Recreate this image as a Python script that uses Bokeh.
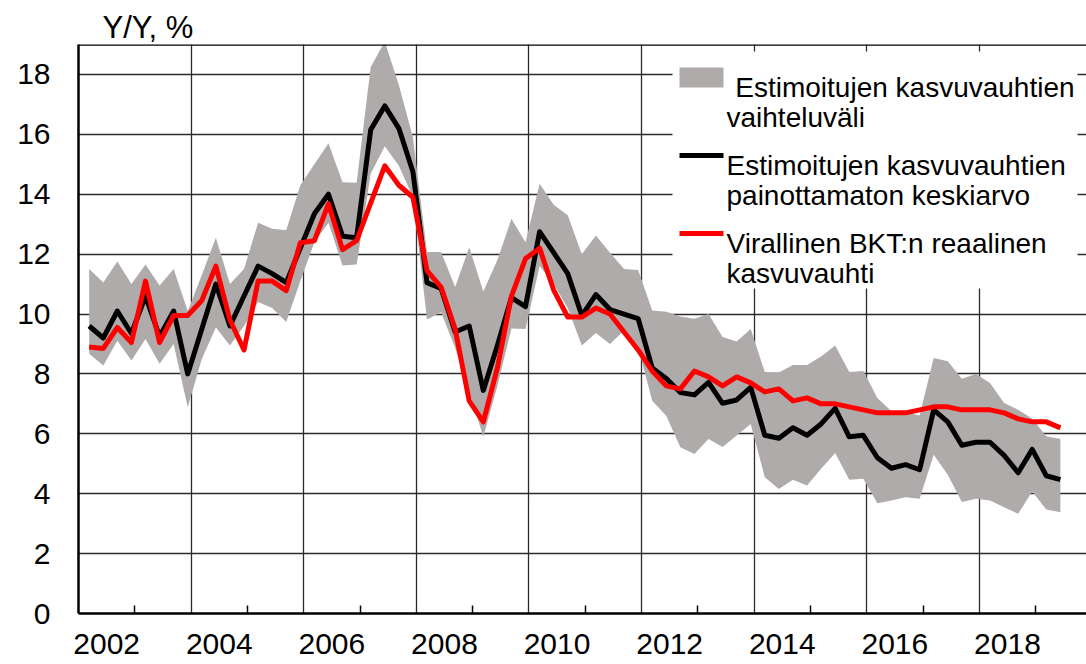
from bokeh.plotting import figure
from bokeh.models import (FixedTicker, CustomJSTickFormatter, Span, BoxAnnotation,
                          Label, Range1d)
from bokeh.embed import file_html
from bokeh.resources import INLINE

# ---------------- data (quarterly, 2002Q1 .. 2019Q2) ----------------
quarters = [f"{y}Q{q}" for y in range(2002, 2020) for q in range(1, 5)][:70]

mean_est = [9.6, 9.2, 10.1, 9.35, 10.6, 9.25, 10.1, 8.0, 9.5, 11.0,
            9.6, 10.6, 11.6, 11.35, 11.05, 12.2, 13.35, 14.0, 12.6, 12.55,
            16.15, 16.95, 16.2, 14.75, 11.05, 10.85, 9.4, 9.6, 7.45, 8.95,
            10.55, 10.25, 12.75, 12.05, 11.35, 9.95, 10.65, 10.15, 10.0, 9.85,
            8.2, 7.85, 7.38, 7.3, 7.72, 7.02, 7.13, 7.55, 5.95, 5.85,
            6.2, 5.95, 6.33, 6.85, 5.9, 5.95, 5.2, 4.85, 4.97, 4.8,
            6.8, 6.4, 5.62, 5.72, 5.72, 5.28, 4.7, 5.48, 4.6, 4.47]

official = [8.9, 8.85, 9.55, 9.05, 11.1, 9.05, 9.95, 9.95, 10.45, 11.6,
            9.8, 8.8, 11.1, 11.1, 10.78, 12.38, 12.45, 13.68, 12.15, 12.45,
            13.7, 14.95, 14.3, 13.9, 11.45, 10.9, 9.5, 7.1, 6.4, 8.2,
            10.6, 11.85, 12.2, 10.8, 9.9, 9.9, 10.2, 10.0, 9.4, 8.8,
            8.1, 7.6, 7.5, 8.1, 7.9, 7.6, 7.9, 7.7, 7.4, 7.5,
            7.1, 7.2, 7.0, 7.0, 6.9, 6.8, 6.7, 6.7, 6.7, 6.8,
            6.9, 6.9, 6.8, 6.8, 6.8, 6.7, 6.5, 6.4, 6.4, 6.2]

range_hi = [11.5, 11.05, 11.75, 11.0, 11.65, 10.95, 11.5, 10.1, 11.3, 12.55,
            11.0, 11.5, 13.05, 12.85, 12.8, 14.3, 15.0, 15.7, 14.4, 14.38,
            18.25, 19.1, 17.65, 15.9, 12.07, 12.07, 10.9, 12.23, 10.75, 11.8,
            13.18, 12.4, 14.35, 13.65, 13.3, 12.0, 12.62, 12.05, 11.5, 11.47,
            10.12, 10.08, 9.92, 9.84, 10.0, 9.23, 9.08, 9.5, 8.06, 8.05,
            8.3, 8.3, 8.58, 8.95, 8.06, 8.1, 7.2, 6.75, 6.72, 6.61,
            8.53, 8.42, 7.84, 8.0, 7.7, 7.03, 6.8, 6.5, 5.92, 5.83]

range_lo = [8.67, 8.28, 9.11, 8.45, 9.17, 8.34, 9.0, 6.89, 8.5, 9.55,
            8.95, 9.6, 10.4, 10.2, 9.73, 11.1, 12.4, 13.05, 11.62, 11.65,
            14.68, 15.6, 14.95, 13.9, 9.82, 10.06, 8.87, 7.4, 5.9, 7.6,
            9.52, 9.5, 11.6, 11.0, 10.2, 8.95, 9.37, 9.0, 9.45, 8.9,
            7.1, 6.6, 5.55, 5.33, 5.83, 5.56, 5.94, 6.33, 4.55, 4.16,
            4.47, 4.27, 4.83, 5.36, 4.47, 4.5, 3.68, 3.77, 3.88, 3.83,
            5.3, 4.63, 3.72, 3.83, 3.77, 3.55, 3.33, 4.07, 3.47, 3.38]

year_labels = list(range(2002, 2020, 2))
y_ticks = list(range(0, 20, 2))

legend_texts = [["\u00a0Estimoitujen kasvuvauhtien", "vaihteluv\u00e4li"],
                ["Estimoitujen kasvuvauhtien", "painottamaton keskiarvo"],
                ["Virallinen BKT:n reaalinen", "kasvuvauhti"]]

# x position of each quarter on the date axis
xs = [int(s[:4]) + (int(s[-1]) - 1) / 4 + 0.19 for s in quarters]

# ---------------- layout ----------------
FONT = "Liberation Sans"
W, H = 1086, 664
FL, FT, FB = 78, 44, 613          # frame left / top / bottom (px)
FW, FH = W - FL, FB - FT
PX_PER_YEAR = 56.3
X0 = 2002.0
X1 = X0 + FW / PX_PER_YEAR
Y0, Y1 = 0.0, 19.0


def dx(px):
    return X0 + (px - FL) * (X1 - X0) / FW


def dy(py):
    return Y1 - (py - FT) * (Y1 - Y0) / FH


p = figure(width=W, height=H, output_backend="svg", toolbar_location=None,
           x_range=Range1d(X0, X1), y_range=Range1d(Y0, Y1),
           min_border_left=FL, min_border_right=0, min_border_top=FT,
           min_border_bottom=H - FB, title="Y/Y, %")
p.outline_line_color = None
p.background_fill_color = "white"
p.border_fill_color = "white"

p.title.align = "left"
p.title.offset = 24
p.title.standoff = 0
p.title.text_font = FONT
p.title.text_font_size = "31px"
p.title.text_font_style = "normal"
p.title.text_color = "black"

# band
p.varea(x=xs, y1=range_lo, y2=range_hi, fill_color="#AFABAB")
# lines
p.line(xs, mean_est, line_color="black", line_width=5, line_join="round")
p.line(xs, official, line_color="#FF0000", line_width=5, line_join="round")

# axes
p.xaxis.ticker = FixedTicker(ticks=[y + 0.5 for y in year_labels],
                             minor_ticks=[y + 1 for y in year_labels])
p.xaxis.formatter = CustomJSTickFormatter(code="return String(Math.floor(tick));")
p.xaxis.minor_tick_in = 8
p.xaxis.minor_tick_out = 0
p.xaxis.minor_tick_line_color = "black"
p.xaxis.minor_tick_line_width = 1.5
p.xaxis.major_label_standoff = 20

p.yaxis.ticker = FixedTicker(ticks=y_ticks)
p.yaxis.minor_tick_line_color = None
p.yaxis.major_label_standoff = 28

for ax in (p.xaxis[0], p.yaxis[0]):
    ax.major_tick_line_color = None
    ax.major_tick_in = 0
    ax.major_tick_out = 0
    ax.axis_line_color = "black"
    ax.axis_line_width = 2.5
    ax.major_label_text_font = FONT
    ax.major_label_text_font_size = "30px"
    ax.major_label_text_color = "black"

p.xgrid.ticker = FixedTicker(ticks=year_labels[1:])
p.ygrid.ticker = FixedTicker(ticks=y_ticks[1:])
for g in (p.xgrid[0], p.ygrid[0]):
    g.grid_line_color = "#2b2b2b"
    g.grid_line_width = 1.3

# top border
p.add_layout(Span(location=Y1, dimension="width", line_color="black", line_width=2.5))

# legend
p.add_layout(BoxAnnotation(left=dx(672), right=dx(1077), top=dy(51), bottom=dy(288),
                           fill_color="white", fill_alpha=1, line_color=None))
p.add_layout(BoxAnnotation(left=dx(679), right=dx(723), top=dy(67), bottom=dy(87),
                           fill_color="#AFABAB", fill_alpha=1, line_color=None))
p.add_layout(BoxAnnotation(left=dx(679), right=dx(723), top=dy(152.5), bottom=dy(157.5),
                           fill_color="black", fill_alpha=1, line_color=None))
p.add_layout(BoxAnnotation(left=dx(679), right=dx(723), top=dy(230.5), bottom=dy(235.5),
                           fill_color="#FF0000", fill_alpha=1, line_color=None))

legend_pos = [((727, 87), (726, 117)), ((726, 165), (726, 195)), ((726, 243), (726, 273))]
for texts, poss in zip(legend_texts, legend_pos):
    for t, (px, py) in zip(texts, poss):
        p.add_layout(Label(x=dx(px), y=dy(py), text=t, text_font=FONT,
                           text_font_size="28px", text_baseline="alphabetic",
                           text_color="black"))

open("out.html", "w").write(file_html(p, INLINE))
